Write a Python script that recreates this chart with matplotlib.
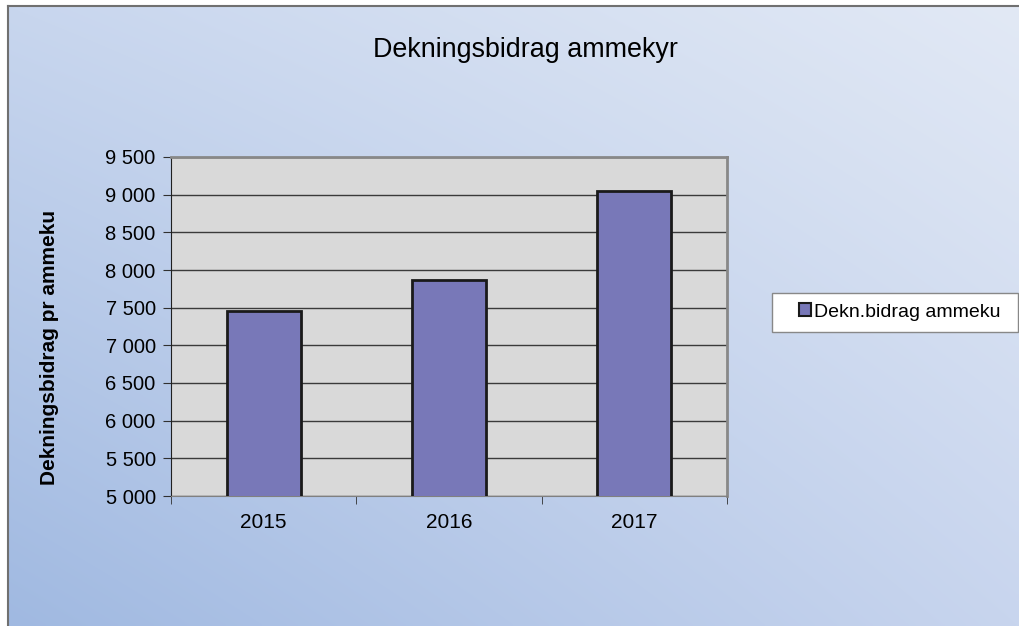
import numpy as np
import matplotlib.pyplot as plt
from matplotlib.patches import Patch, Rectangle
from matplotlib.ticker import FuncFormatter

plt.rcParams['font.family'] = ['Liberation Sans', 'DejaVu Sans']

years = ["2015", "2016", "2017"]
db_ammeku = [7460, 7870, 9050]
y_ticks = [5000, 5500, 6000, 6500, 7000, 7500, 8000, 8500, 9000, 9500]

W, H = 1019, 626
fig = plt.figure(figsize=(W / 100, H / 100), dpi=100)
fig.patch.set_facecolor("white")

# gradient background panel
bg = fig.add_axes([8 / W, 0, 1 - 8 / W, 1 - 6 / H])
bl = np.array([160, 185, 225]) / 255
tl = np.array([200, 214, 238]) / 255
tr = np.array([226, 233, 245]) / 255
br = np.array([200, 213, 238]) / 255
u = np.linspace(0, 1, 200)[None, :, None]
v = np.linspace(0, 1, 200)[:, None, None]
grad = (1 - u) * (1 - v) * tl + u * (1 - v) * tr + (1 - u) * v * bl + u * v * br
bg.imshow(grad, aspect="auto", extent=[0, 1, 0, 1], interpolation="bilinear")
bg.set_xticks([])
bg.set_yticks([])
for s in ["right", "bottom"]:
    bg.spines[s].set_visible(False)
for s in ["left", "top"]:
    bg.spines[s].set_color("#707070")
    bg.spines[s].set_linewidth(1.5)

ax = fig.add_axes([171 / W, 130 / H, 556 / W, 339 / H])
ax.set_facecolor("#d9d9d9")
x = np.arange(len(years))
ax.bar(x, db_ammeku, width=0.4, color="#7878b8", edgecolor="#1a1a1a", linewidth=2, zorder=3)
ax.set_ylim(5000, 9500)
ax.set_xlim(-0.5, len(years) - 0.5)
ax.set_yticks(y_ticks)
ax.yaxis.set_major_formatter(FuncFormatter(lambda v, p: "{:,.0f}".format(v).replace(",", " ")))
ax.grid(axis="y", color="#3a3a3a", linewidth=1, zorder=1)
ax.set_xticks(x)
ax.set_xticklabels(years)
ax.set_xticks(np.arange(-0.5, len(years)), minor=True)
ax.tick_params(axis="x", which="major", length=0, pad=12, labelsize=15)
ax.tick_params(axis="x", which="minor", length=6, color="#303030")
ax.tick_params(axis="y", length=6, color="#303030", labelsize=14.5, pad=5)
ax.spines["left"].set_color("#202020")
ax.spines["bottom"].set_color("#808080")
for s in ["top", "right"]:
    ax.spines[s].set_color("#888888")
    ax.spines[s].set_linewidth(2)

fig.text(50 / W, 1 - 347 / H, "Dekningsbidrag pr ammeku", rotation=90, ha="center", va="center",
         fontsize=15, fontweight="bold")
fig.text(525 / W, 1 - 50 / H, "Dekningsbidrag ammekyr", ha="center", va="center", fontsize=19.4)

# legend box
fig.patches.append(Rectangle((772 / W, 1 - 332 / H), 246 / W, 39 / H, transform=fig.transFigure,
                             facecolor="white", edgecolor="#888888", linewidth=1, zorder=5))
handle = Patch(facecolor="#7878b8", edgecolor="#1a1a1a", linewidth=1.5)
leg = fig.legend([handle], ["Dekn.bidrag ammeku"], loc="center left",
                 bbox_to_anchor=(793 / W, 1 - 312 / H), fontsize=14, frameon=False,
                 handlelength=0.6, handleheight=0.6, handletextpad=0.2,
                 borderpad=0.3, borderaxespad=0)
leg.set_zorder(6)

fig.savefig("out.png", dpi=100)
